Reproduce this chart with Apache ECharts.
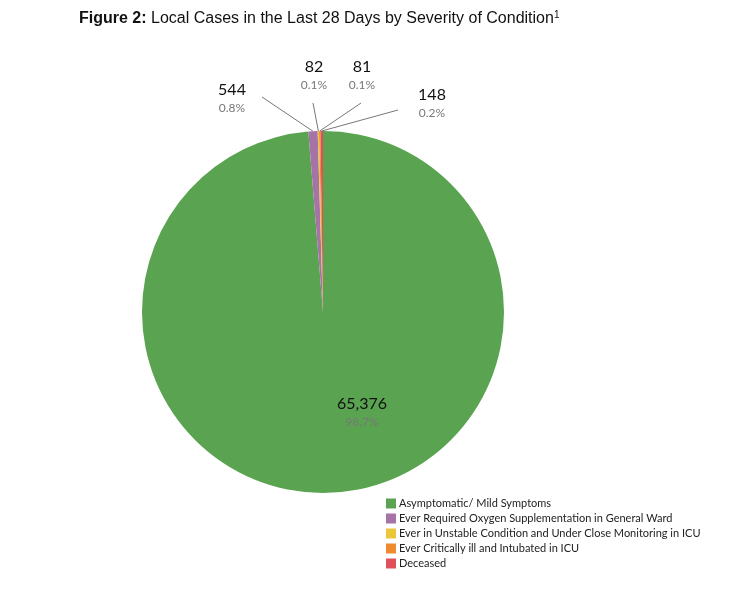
<!DOCTYPE html>
<html><head><meta charset="utf-8">
<script src="https://cdn.jsdelivr.net/npm/echarts@6/dist/echarts.min.js"></script>
<style>body{margin:0;background:#fff}#c{width:747px;height:598px}</style>
</head><body><div id="c"></div>
<script>
var categories = ['Asymptomatic/ Mild Symptoms','Ever Required Oxygen Supplementation in General Ward','Ever in Unstable Condition and Under Close Monitoring in ICU','Ever Critically ill and Intubated in ICU','Deceased'];
var values = [65376, 544, 82, 81, 148];
var pctLabels = ['98.7%','0.8%','0.1%','0.1%','0.2%'];
var colors = ['#5aa351','#a673a6','#ecc63a','#ef8a2e','#e0505a'];

// label anchor spots (pixel) and line ends
var labelSpots = [[362,412],[232,98],[314,75],[362,75],[432,103]];
var lineEnds = [null,[262,97],[313,103],[361,103],[398,110]];

var myChart = echarts.init(document.getElementById('c'));
var data = [];
for(var i=0;i<values.length;i++){
    data.push({name:categories[i], value:values[i], itemStyle:{color:colors[i]}, labelLine:{show:i>0}});
}
var option = {
    title:{
        text:'{u|Figure 2:} Local Cases in the Last 28 Days by Severity of Condition{s|1}',
        left:74, top:5,
        textStyle:{
            fontFamily:'Liberation Sans', fontSize:16, fontWeight:'normal', color:'#111',
            rich:{
                u:{fontFamily:'Liberation Sans',fontSize:16,fontWeight:'bold',textBorderWidth:0,color:'#111'},
                s:{fontFamily:'Liberation Sans',fontSize:10,verticalAlign:'top',padding:[0,0,8,0],color:'#111'}
            }
        }
    },
    legend:{
        orient:'vertical', left:381, top:493,
        itemWidth:10, itemHeight:10, itemGap:4, icon:'rect',
        data:categories,
        textStyle:{fontFamily:'Lato', fontSize:11, color:'#222', padding:[0,0,0,-2]}
    },
    series:[{
        type:'pie',
        center:[323,312], radius:181,
        startAngle:90, clockwise:true,
        data:data,
        animation:false,
        label:{
            formatter:function(p){ return '{v|'+p.value.toLocaleString('en-US')+'}\n{p|'+pctLabels[p.dataIndex]+'}'; },
            rich:{
                v:{fontFamily:'Lato',fontSize:16,color:'#111',align:'center',lineHeight:20},
                p:{fontFamily:'Lato',fontSize:12,color:'#777',align:'center',lineHeight:16}
            }
        },
        labelLine:{lineStyle:{color:'#777',width:1}},
        labelLayout:function(p){
            var s = labelSpots[p.dataIndex];
            var r = {x:s[0], y:s[1], align:'center', verticalAlign:'middle'};
            var e = lineEnds[p.dataIndex];
            if(e){
                var pts = p.labelLinePoints;
                if(pts) r.labelLinePoints = [e, pts[0], pts[0]];
            }
            return r;
        }
    }]
};
myChart.setOption(option,true);
</script></body></html>
